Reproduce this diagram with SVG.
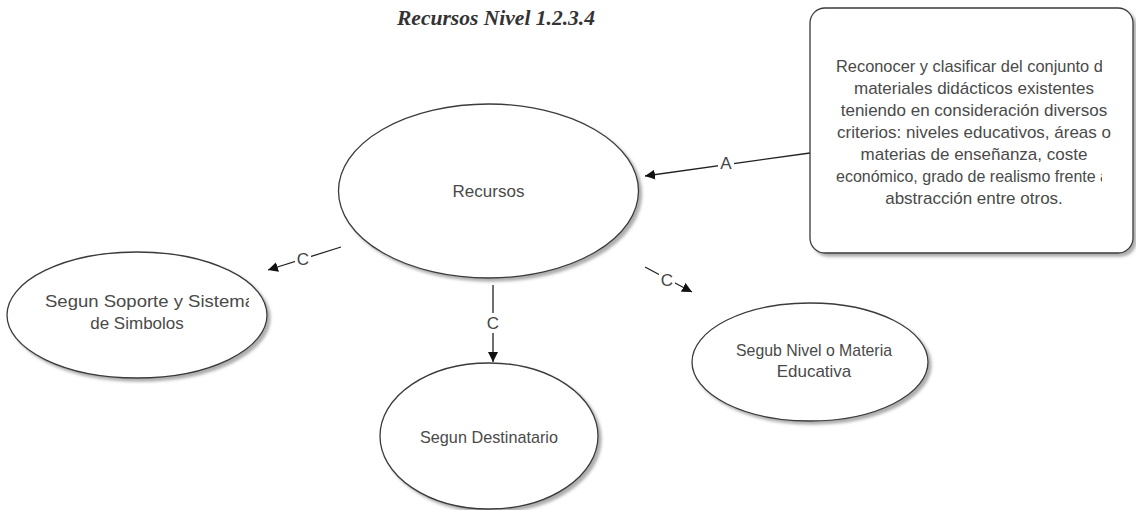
<svg xmlns="http://www.w3.org/2000/svg" width="1136" height="510" viewBox="0 0 1136 510">
<style>
.shape{fill:#fff;stroke:#3a3a3a;stroke-width:1.3;filter:url(#sh)}
.t{font-family:"Liberation Sans",Arial,sans-serif;font-size:17px;fill:#4a4a4a;text-anchor:middle}
.s{text-anchor:start}
.lbl{font-family:"Liberation Sans",Arial,sans-serif;font-size:17px;fill:#444;text-anchor:middle}
.edge{stroke:#222;stroke-width:1.3;fill:none;marker-end:url(#ah)}
.title{font-family:"Liberation Serif","Times New Roman",serif;font-size:20px;font-weight:bold;font-style:italic;fill:#333;text-anchor:middle}
</style>
<defs>
<filter id="sh" x="-10%" y="-10%" width="130%" height="130%">
<feDropShadow dx="3" dy="3" stdDeviation="1.5" flood-color="#777" flood-opacity="0.6"/>
</filter>
<marker id="ah" viewBox="0 0 10 10" refX="10" refY="5" markerWidth="10" markerHeight="10" markerUnits="userSpaceOnUse" orient="auto">
<path d="M0,0 L10,5 L0,10 z" fill="#111"/>
</marker>
<clipPath id="clipBox"><rect x="830" y="20" width="272" height="220"/></clipPath>
<clipPath id="clipSop"><rect x="20" y="270" width="229" height="80"/></clipPath>
</defs>
<rect width="1136" height="510" fill="#fff"/>
<text class="title" x="496" y="25" textLength="198" lengthAdjust="spacingAndGlyphs">Recursos Nivel 1.2.3.4</text>
<g id="connectors">
<line class="edge" x1="810" y1="153" x2="645" y2="176"/>
<line class="edge" x1="341" y1="247" x2="268" y2="270"/>
<line class="edge" x1="493" y1="285" x2="493" y2="362"/>
<line class="edge" x1="645" y1="267" x2="692" y2="292"/>
<rect x="718" y="153" width="16" height="20" fill="#fff"/>
<text class="lbl" x="726" y="169">A</text>
<rect x="295" y="249" width="16" height="20" fill="#fff"/>
<text class="lbl" x="303" y="265">C</text>
<rect x="485" y="313" width="16" height="20" fill="#fff"/>
<text class="lbl" x="493" y="329">C</text>
<rect x="659" y="270" width="16" height="20" fill="#fff"/>
<text class="lbl" x="667" y="286">C</text>
</g>
<g id="recursos">
<ellipse class="shape" cx="488.5" cy="191" rx="150" ry="87"/>
<text class="t" x="488.5" y="197">Recursos</text>
</g>
<g id="nota">
<rect class="shape" x="810" y="8" width="323" height="245" rx="15" ry="15"/>
<g clip-path="url(#clipBox)">
<text class="t s" x="836" y="72" textLength="276" lengthAdjust="spacingAndGlyphs">Reconocer y clasificar del conjunto de</text>
<text class="t s" x="836" y="182" textLength="273" lengthAdjust="spacingAndGlyphs">económico, grado de realismo frente a</text>
</g>
<text class="t" x="974" y="94">materiales didácticos existentes</text>
<text class="t" x="974" y="116">teniendo en consideración diversos</text>
<text class="t" x="974" y="138">criterios: niveles educativos, áreas o</text>
<text class="t" x="974" y="160">materias de enseñanza, coste</text>
<text class="t" x="974" y="204">abstracción entre otros.</text>
</g>
<g id="soporte">
<ellipse class="shape" cx="137" cy="315" rx="130" ry="63"/>
<g clip-path="url(#clipSop)">
<text class="t s" x="45" y="307" textLength="210" lengthAdjust="spacingAndGlyphs">Segun Soporte y Sistema</text>
</g>
<text class="t" x="137" y="329">de Simbolos</text>
</g>
<g id="destinatario">
<ellipse class="shape" cx="489" cy="436" rx="109" ry="73"/>
<text class="t" x="489" y="443" textLength="138" lengthAdjust="spacingAndGlyphs">Segun Destinatario</text>
</g>
<g id="nivel">
<ellipse class="shape" cx="810" cy="362" rx="118" ry="59"/>
<text class="t" x="814" y="356" textLength="156" lengthAdjust="spacingAndGlyphs">Segub Nivel o Materia</text>
<text class="t" x="814" y="377">Educativa</text>
</g>
</svg>
